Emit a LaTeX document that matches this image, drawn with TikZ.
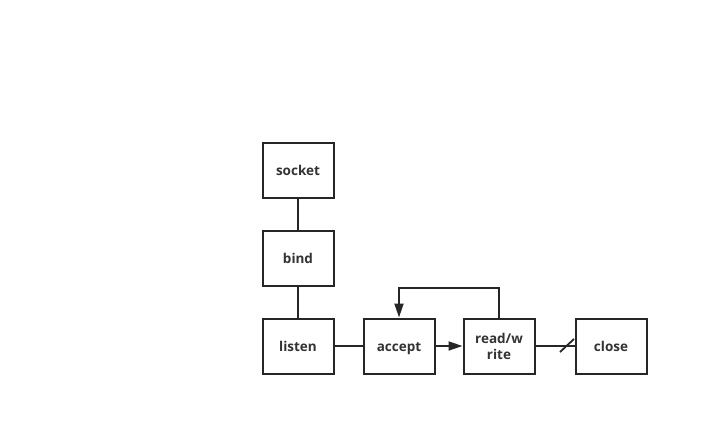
\documentclass[tikz,border=0pt]{standalone}
\usepackage{fontspec}
\setmainfont{Open Sans}
\usetikzlibrary{arrows.meta}
\begin{document}
\begin{tikzpicture}[x=1pt,y=-1pt,
  box/.style={draw=black!85,line width=2pt,minimum width=71pt,minimum height=55pt,inner sep=0pt,align=center,font=\fontsize{13.5}{16}\selectfont\bfseries,text=black!80},
  one/.style={text height=13pt,text depth=2pt},
  conn/.style={draw=black!85,line width=1.8pt}]
\useasboundingbox[fill=white] (0,0) rectangle (709,436);
\node[box,one] (socket) at (298,170) {socket};
\node[box,one] (bind) at (298,258) {bind};
\node[box,one] (listen) at (298,346) {listen};
\node[box,one] (accept) at (399,346) {accept};
\node[box] (rw) at (499,346) {read/w\\rite};
\node[box,one] (close) at (611,346) {close};
\coordinate (ta) at (499,288);
\coordinate (tb) at (399,288);
\coordinate (s1) at (560,352);
\coordinate (s2) at (574,339);
\draw[conn] (socket) -- (bind);
\draw[conn] (bind) -- (listen);
\draw[conn] (listen) -- (accept);
\draw[conn,-{Triangle[length=14pt,width=9pt]}] (accept) -- (rw);
\draw[conn] (rw) -- (close);
\draw[conn] (s1) -- (s2);
\draw[conn,-{Triangle[length=14pt,width=9pt]}] (rw.north) -- (ta) -- (tb) -- (accept.north);
\end{tikzpicture}
\end{document}
